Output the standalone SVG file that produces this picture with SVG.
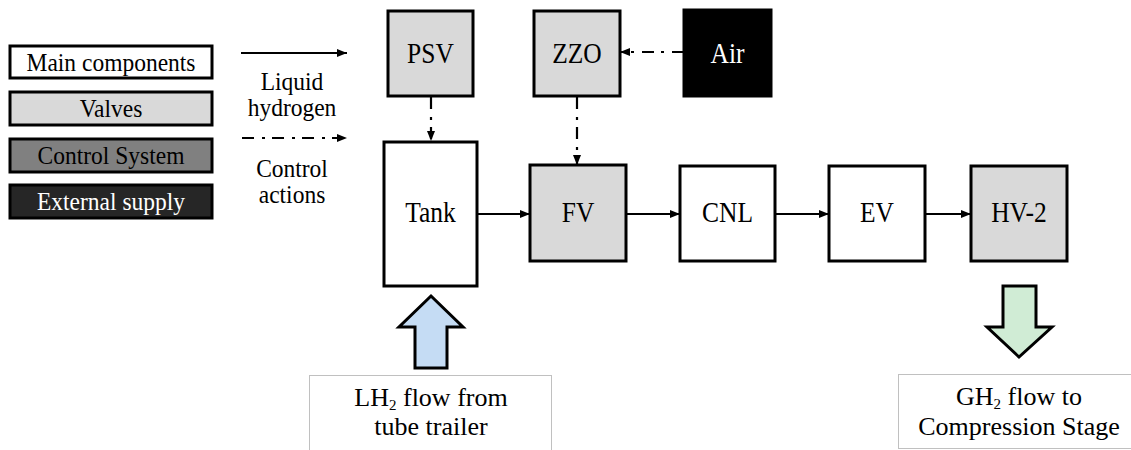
<svg xmlns="http://www.w3.org/2000/svg" width="1131" height="450" viewBox="0 0 1131 450" font-family="Liberation Serif, serif">
<style>
text{text-anchor:middle;fill:#000}
.box{stroke:#000;stroke-width:3}
.main{fill:#fff}
.valve{fill:#d9d9d9}
.ctrl{fill:#808080}
.ext{fill:#262626}
.air{fill:#000}
.lbl{font-size:25.5px}
.leg{font-size:23.5px}
.bot{font-size:26px}
.sub{font-size:15px}
.wt{fill:#fff}
.flow{stroke:#000;stroke-width:2;fill:none}
.dd{stroke:#000;stroke-width:2.2;fill:none;stroke-dasharray:12 8 3 7}
.note{fill:#fff;stroke:#c0c0c0;stroke-width:1}
.big{stroke:#000;stroke-width:3;stroke-linejoin:miter}
</style>
<defs>
<marker id="ah" markerUnits="userSpaceOnUse" markerWidth="10" markerHeight="10" viewBox="0 0 10 10" refX="10" refY="5" orient="auto">
<path d="M0,1 L10,5 L0,9 Z" fill="#000"/>
</marker>
</defs>
<rect width="1131" height="450" fill="#fff"/>

<g id="legend">
<g id="leg-main"><rect class="box main" x="10" y="46" width="202" height="32"/><text class="leg" transform="translate(111,71) scale(1,1.05)">Main components</text></g>
<g id="leg-valves"><rect class="box valve" x="10" y="92" width="202" height="33"/><text class="leg" transform="translate(111,117) scale(1,1.05)">Valves</text></g>
<g id="leg-ctrl"><rect class="box ctrl" x="10" y="139" width="202" height="33"/><text class="leg" transform="translate(111,164) scale(1,1.05)">Control System</text></g>
<g id="leg-ext"><rect class="box ext" x="10" y="185" width="202" height="33"/><text class="leg wt" transform="translate(111,210) scale(1,1.05)">External supply</text></g>
<g id="leg-liquid"><line class="flow" x1="241" y1="53" x2="347" y2="53" marker-end="url(#ah)"/><text class="leg" transform="translate(292,90) scale(1,1.05)">Liquid</text><text class="leg" transform="translate(292,116) scale(1,1.05)">hydrogen</text></g>
<g id="leg-control"><line class="dd" x1="242" y1="138" x2="347" y2="138" marker-end="url(#ah)"/><text class="leg" transform="translate(292,177) scale(1,1.05)">Control</text><text class="leg" transform="translate(292,203) scale(1,1.05)">actions</text></g>
</g>

<g id="connectors">
<line class="flow" x1="477" y1="214" x2="530" y2="214" marker-end="url(#ah)"/>
<line class="flow" x1="626" y1="214" x2="680" y2="214" marker-end="url(#ah)"/>
<line class="flow" x1="775" y1="214" x2="829" y2="214" marker-end="url(#ah)"/>
<line class="flow" x1="925" y1="214" x2="971" y2="214" marker-end="url(#ah)"/>
<line class="dd" x1="431" y1="97" x2="431" y2="141" marker-end="url(#ah)"/>
<line class="dd" x1="577" y1="97" x2="577" y2="165" marker-end="url(#ah)"/>
<line class="dd" x1="684" y1="52" x2="620" y2="52" marker-end="url(#ah)"/>
</g>

<g id="PSV"><rect class="box valve" x="388" y="11" width="85" height="85"/><text class="lbl" transform="translate(430.5,63) scale(1,1.12)">PSV</text></g>
<g id="ZZO"><rect class="box valve" x="534" y="11" width="86" height="85"/><text class="lbl" transform="translate(577,63) scale(1,1.12)">ZZO</text></g>
<g id="Air"><rect class="box air" x="684" y="10" width="87" height="86"/><text class="lbl wt" transform="translate(727.5,63) scale(1,1.12)">Air</text></g>
<g id="Tank"><rect class="box main" x="384" y="142" width="93" height="144"/><text class="lbl" transform="translate(430.5,222) scale(1,1.12)">Tank</text></g>
<g id="FV"><rect class="box valve" x="530" y="165" width="96" height="96"/><text class="lbl" transform="translate(578,222) scale(1,1.12)">FV</text></g>
<g id="CNL"><rect class="box main" x="680" y="166" width="95" height="95"/><text class="lbl" transform="translate(727.5,222) scale(1,1.12)">CNL</text></g>
<g id="EV"><rect class="box main" x="829" y="166" width="96" height="95"/><text class="lbl" transform="translate(877,222) scale(1,1.12)">EV</text></g>
<g id="HV-2"><rect class="box valve" x="971" y="166" width="96" height="95"/><text class="lbl" transform="translate(1019,222) scale(1,1.12)">HV-2</text></g>

<g id="inflow">
<path class="big" d="M415,368 L415,327 L399,327 L431,296 L463,327 L447,327 L447,368 Z" fill="#c5dcf4"/>
<rect class="note" x="309.5" y="375.5" width="242" height="80"/>
<text class="bot" x="431" y="406">LH<tspan class="sub" dy="4">2</tspan><tspan dy="-4"> flow from</tspan></text>
<text class="bot" x="431" y="435">tube trailer</text>
</g>

<g id="outflow">
<path class="big" d="M1003,286 L1036,286 L1036,327 L1052,327 L1019,357 L987,327 L1003,327 Z" fill="#d0ecd5"/>
<rect class="note" x="898.5" y="374.5" width="240" height="74"/>
<text class="bot" x="1019" y="405">GH<tspan class="sub" dy="4">2</tspan><tspan dy="-4"> flow to</tspan></text>
<text class="bot" x="1019" y="435">Compression Stage</text>
</g>
</svg>
